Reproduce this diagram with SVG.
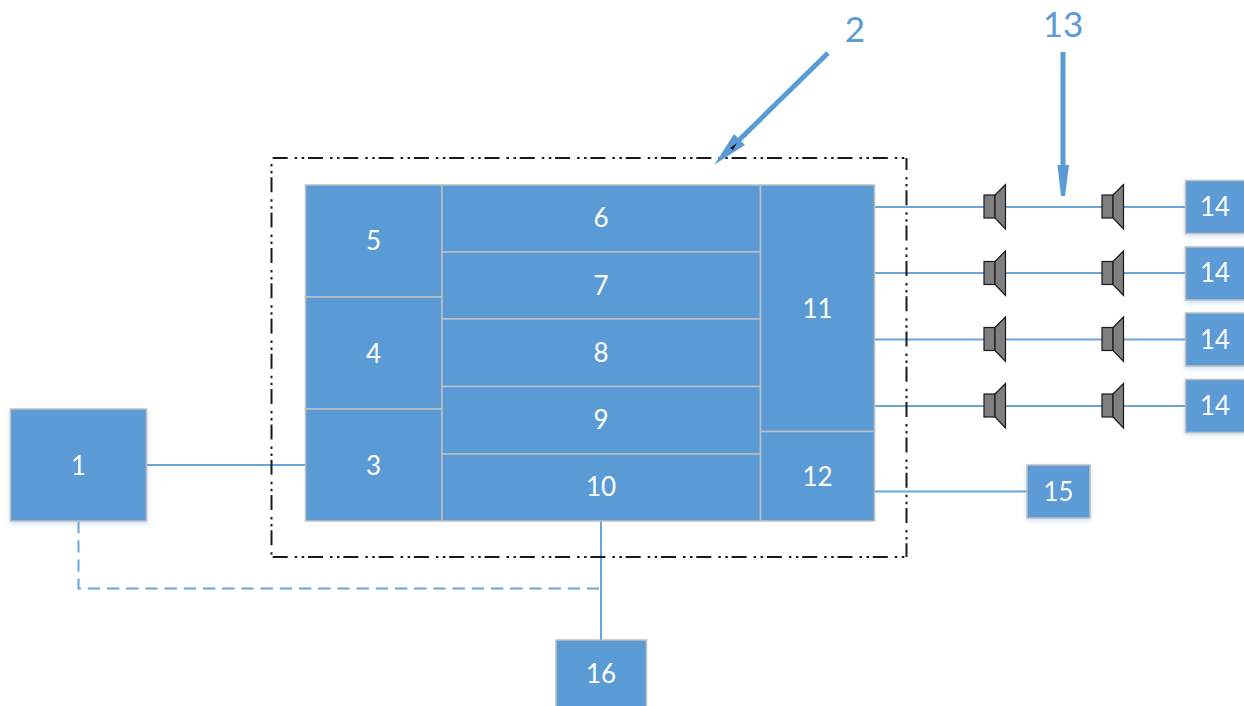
<svg xmlns="http://www.w3.org/2000/svg" width="1244" height="706" viewBox="0 0 1244 706">
<style>
.b{fill:#5b9bd5;stroke:#bfbfbf;stroke-width:1.5}
.t{font-family:"Lato","Open Sans",sans-serif;font-size:26px;fill:#fff;text-anchor:middle}
.l{font-family:"Lato","Open Sans",sans-serif;font-size:35px;fill:#5b9bd5;text-anchor:middle}
.c{fill:none;stroke:#6aa5da;stroke-width:2}
.a{fill:none;stroke:#5b9bd5;stroke-width:5}
.h{fill:#5b9bd5;stroke:none}
.s{fill:#7f7f7f;stroke:#1a1a1a;stroke-width:1.2}
.d{fill:none;stroke:#1a1a1a;stroke-width:2;stroke-dasharray:15 7 2.500 4.500 2.500 3.800}
</style>
<defs>
<filter id="sh" x="-10%" y="-10%" width="120%" height="125%"><feDropShadow dx="0" dy="2" stdDeviation="2.5" flood-color="#5b9bd5" flood-opacity=".3"/></filter>
<g id="spk"><rect class="s" x="0" y="10.500" width="11" height="23"/><path class="s" d="M11 10.500L21.500 0V44.500L11 33.500Z"/></g>
</defs>
<g id="connectors">
<path class="c" d="M147 465H306"/>
<path class="c" d="M601 521V640"/>
<path class="c" stroke-dasharray="12.300 6.900" d="M78.500 521V588.500H599"/>
<path class="c" d="M875 207H1185"/>
<path class="c" d="M875 273H1185"/>
<path class="c" d="M875 339.500H1185"/>
<path class="c" d="M875 406H1185"/>
<path class="c" d="M875 491.500H1027"/>
</g>
<g id="boundary">
<path class="d" stroke-dashoffset="-1.200" d="M271.500 158H906.500"/>
<path class="d" stroke-dashoffset="-1.200" d="M271.500 557H906.500"/>
<path class="d" stroke-dashoffset="16" d="M271.500 158V557"/>
<path class="d" stroke-dashoffset="3" d="M906.500 158V557"/>
</g>
<g id="arrow2"><path class="a" d="M828 53L733 146"/><path class="h" d="M714.500 164.500L734 134L745 145Z"/><path d="M730 148L737 143L733 150Z" fill="#111"/></g>
<g id="arrow13"><path class="a" d="M1063 52V170"/><path class="h" d="M1057.500 165H1069L1065 196H1061Z"/></g>
<g id="speakers">
<use href="#spk" x="984" y="184.500"/><use href="#spk" x="1102" y="184.500"/>
<use href="#spk" x="984" y="251"/><use href="#spk" x="1102" y="251"/>
<use href="#spk" x="984" y="317"/><use href="#spk" x="1102" y="317"/>
<use href="#spk" x="984" y="383.500"/><use href="#spk" x="1102" y="383.500"/>
</g>
<g id="n1" filter="url(#sh)"><rect class="b" x="10.500" y="409" width="136" height="112"/><text class="t" x="78.500" y="474.500">1</text></g>
<g id="n5"><rect class="b" x="305.500" y="185" width="136.500" height="112"/><text class="t" x="373.500" y="250">5</text></g>
<g id="n4"><rect class="b" x="305.500" y="297" width="136.500" height="112"/><text class="t" x="373.500" y="362.500">4</text></g>
<g id="n3"><rect class="b" x="305.500" y="409" width="136.500" height="112"/><text class="t" x="373.500" y="474.500">3</text></g>
<g id="n6"><rect class="b" x="442" y="185" width="318.500" height="67"/><text class="t" x="601" y="227">6</text></g>
<g id="n7"><rect class="b" x="442" y="252" width="318.500" height="67"/><text class="t" x="601" y="294.500">7</text></g>
<g id="n8"><rect class="b" x="442" y="319" width="318.500" height="67.500"/><text class="t" x="601" y="362">8</text></g>
<g id="n9"><rect class="b" x="442" y="386.500" width="318.500" height="67.500"/><text class="t" x="601" y="429">9</text></g>
<g id="n10"><rect class="b" x="442" y="454" width="318.500" height="67"/><text class="t" x="601" y="496">10</text></g>
<g id="n11"><rect class="b" x="760.500" y="185" width="114" height="246.500"/><text class="t" x="817.500" y="317.500">11</text></g>
<g id="n12"><rect class="b" x="760.500" y="431.500" width="114" height="89.500"/><text class="t" x="817.500" y="485.500">12</text></g>
<g id="n14a" filter="url(#sh)"><rect class="b" x="1185.500" y="180.500" width="60" height="53"/><text class="t" x="1215" y="216">14</text></g>
<g id="n14b" filter="url(#sh)"><rect class="b" x="1185.500" y="247" width="60" height="53"/><text class="t" x="1215" y="282">14</text></g>
<g id="n14c" filter="url(#sh)"><rect class="b" x="1185.500" y="313" width="60" height="53"/><text class="t" x="1215" y="348.500">14</text></g>
<g id="n14d" filter="url(#sh)"><rect class="b" x="1185.500" y="379.500" width="60" height="53"/><text class="t" x="1215" y="414.500">14</text></g>
<g id="n15" filter="url(#sh)"><rect class="b" x="1027" y="465" width="63" height="53"/><text class="t" x="1058.500" y="501">15</text></g>
<g id="n16"><rect class="b" x="556" y="640" width="90.500" height="70"/><text class="t" x="601" y="682.500">16</text></g>
<text class="l" x="855" y="42">2</text>
<text class="l" x="1063" y="37">13</text>
</svg>
